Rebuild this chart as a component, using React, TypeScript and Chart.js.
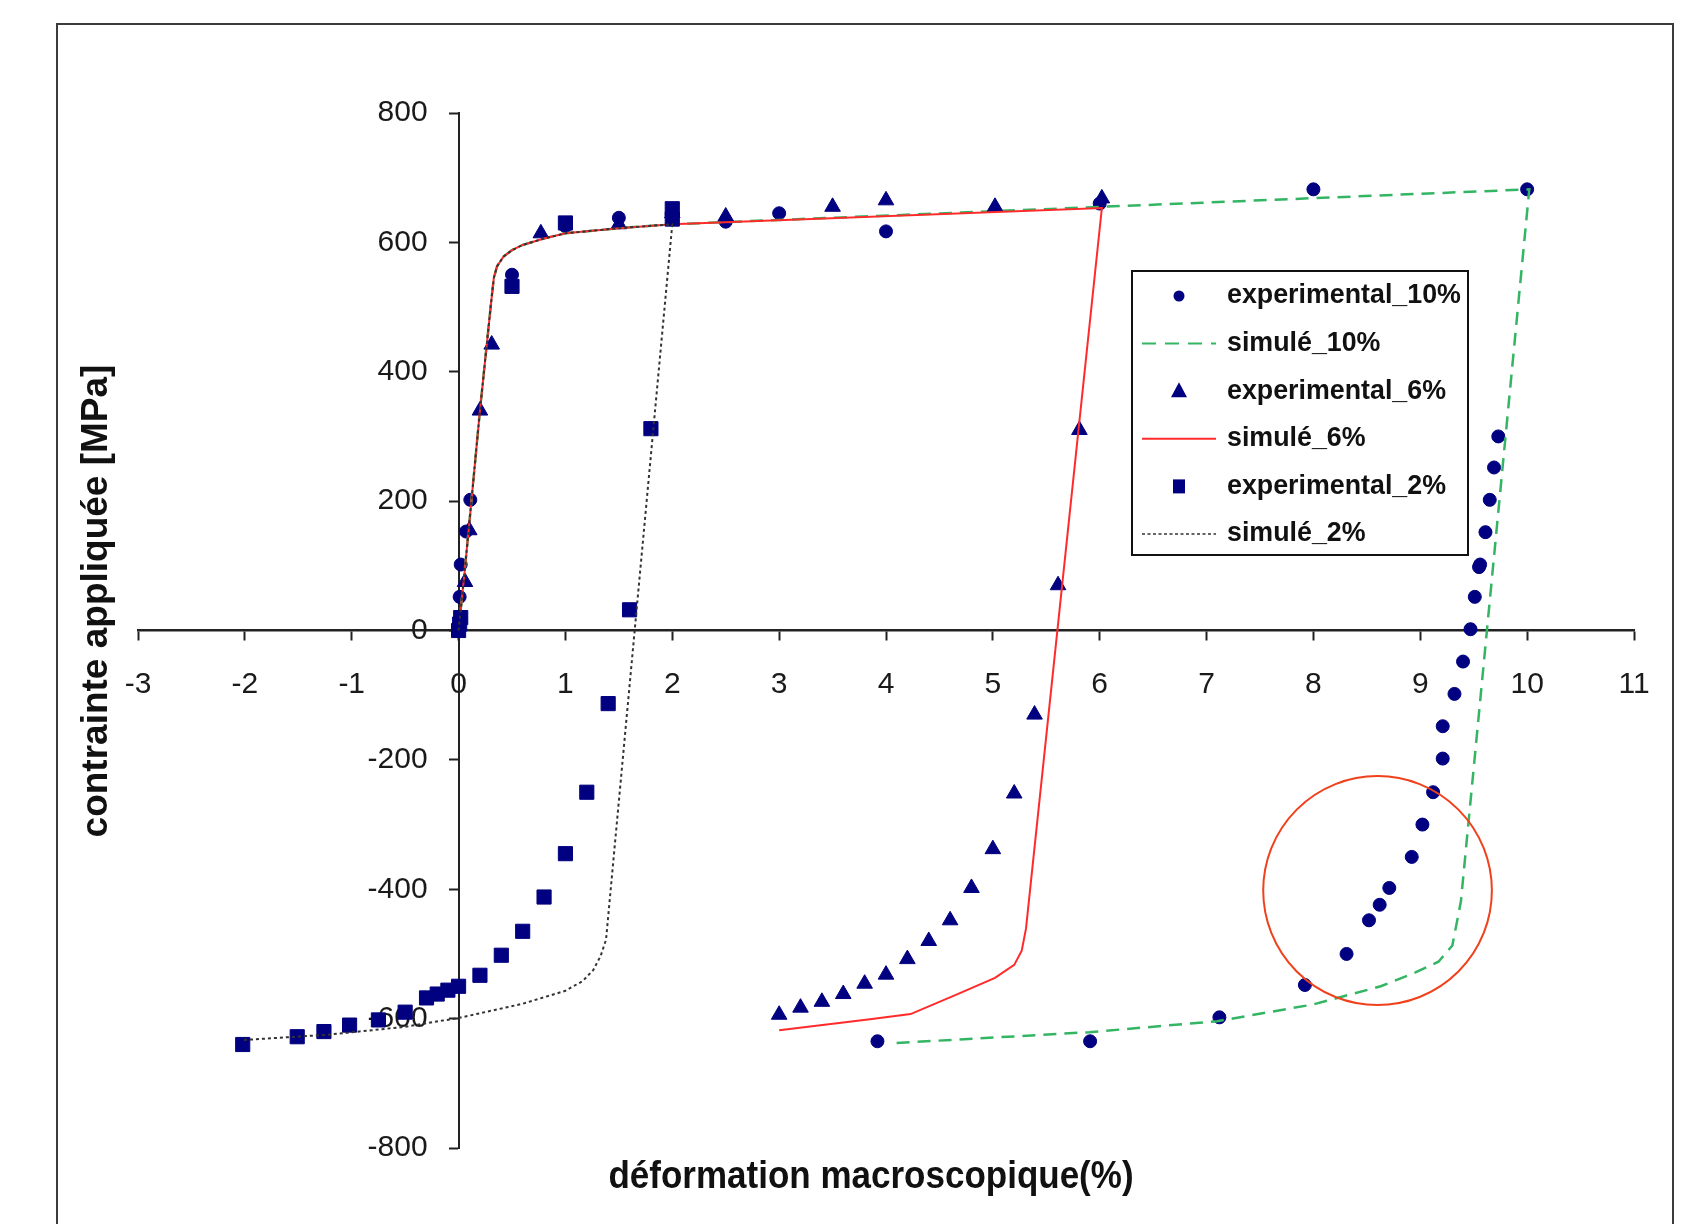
import React, { useEffect, useRef } from 'react';
import { Chart, registerables } from 'chart.js';

Chart.register(...registerables);

// ---- axis ranges / ticks ----
const xRange = [-3, 11];
const yRange = [-800, 800];
const xStep = 1;
const yStep = 200;

// ---- experimental_10% (circles) ----
const exp10X = [0, 0.01, 0.02, 0.07, 0.11, 0.5, 1.0, 1.5, 2.0, 2.5, 3.0, 4.0, 6.0, 8.0, 10.0,
  9.73, 9.69, 9.65, 9.61, 9.56, 9.55, 9.51, 9.47, 9.40, 9.32, 9.21, 9.21, 9.12, 9.02, 8.92, 8.71, 8.62, 8.52, 8.31, 7.92, 7.12, 5.91, 3.92];
const exp10Y = [0, 52, 102, 153, 202, 550, 625, 638, 645, 632, 645, 617, 660, 682, 682,
  300, 252, 202, 152, 102, 98, 52, 2, -48, -98, -148, -198, -250, -300, -350, -398, -424, -448, -500, -548, -598, -635, -635];

// ---- experimental_6% (triangles) ----
const exp6X = [0.06, 0.1, 0.2, 0.31, 0.77, 1.5, 2.0, 2.5, 3.5, 4.0, 5.02, 6.02,
  5.81, 5.61, 5.39, 5.2, 5.0, 4.8, 4.6, 4.4, 4.2, 4.0, 3.8, 3.6, 3.4, 3.2, 3.0];
const exp6Y = [75, 155, 340, 442, 614, 628, 645, 640, 655, 665, 655, 668,
  310, 70, -130, -252, -338, -398, -448, -480, -508, -532, -546, -562, -574, -583, -594];

// ---- experimental_2% (squares) ----
const exp2X = [0, 0.01, 0.02, 0.5, 1.0, 2.0, 2.0,
  1.8, 1.6, 1.4, 1.2, 1.0, 0.8, 0.6, 0.4, 0.2, 0.0, -0.1, -0.2, -0.3, -0.5, -0.75, -1.02, -1.26, -1.51, -2.02];
const exp2Y = [0, 10, 20, 532, 630, 636, 652,
  312, 32, -113, -250, -345, -412, -465, -502, -533, -550, -556, -562, -568, -590, -602, -610, -620, -628, -640];

// ---- simulated: common loading branch ----
const loadX = [0, 0.05, 0.1, 0.2, 0.3, 0.33, 0.36, 0.42, 0.5, 0.6, 0.8, 1.0, 1.5, 2.0];
const loadY = [0, 80, 165, 340, 500, 545, 563, 578, 588, 596, 606, 614, 622, 628];

// ---- simulé_10% ----
const sim10X = [...loadX, 6.02, 10.02, 9.38, 9.3, 9.17, 8.95, 8.63, 8.0, 7.1, 5.9, 4.06];
const sim10Y = [...loadY, 655, 682, -419, -487, -512, -529, -550, -578, -604, -621, -638];

// ---- simulé_6% ----
const sim6X = [...loadX, 6.02, 5.31, 5.27, 5.2, 5.02, 4.67, 4.23, 3.85, 3.0];
const sim6Y = [...loadY, 653, -461, -495, -517, -537, -562, -593, -601, -618];

// ---- simulé_2% ----
const sim2X = [...loadX, 1.38, 1.33, 1.26, 1.16, 1.0, 0.6, 0.0, -0.52, -1.23, -2.01];
const sim2Y = [...loadY, -478, -503, -525, -542, -557, -577, -599, -613, -625, -633];

// ---- red ring annotation (data units) ----
const ringCenter = [8.6, -402];
const ringHalf = [1.07, 177];

// ---- texts ----
const xTitle = 'déformation macroscopique(%)';
const yTitle = 'contrainte appliquée [MPa]';
const legendLabels = ['experimental_10%', 'simulé_10%', 'experimental_6%', 'simulé_6%', 'experimental_2%', 'simulé_2%'];

const NAVY = '#000080';
const GREEN = '#33b563';
const RED = '#ff2b2b';
const BLACK = '#333333';

const pts = (xs: number[], ys: number[]) => xs.map((x, i) => ({ x, y: ys[i] }));

const FONT = '"Liberation Sans", Arial, Helvetica, sans-serif';

const shifted = new WeakSet<object>();

const decorPlugin = {
  id: 'decor',
  beforeDraw(chart: any) {
    const ctx = chart.ctx as CanvasRenderingContext2D;
    // move the y tick labels left of the crossing axis (Excel style gap)
    const ys = chart.scales.y;
    const items = ys.getLabelItems(chart.chartArea) || [];
    items.forEach((it: any) => {
      if (!shifted.has(it) && it.options && it.options.translation) {
        it.options.translation[0] -= 31;
        shifted.add(it);
      }
    });
    ctx.save();
    ctx.fillStyle = '#ffffff';
    ctx.fillRect(0, 0, chart.width, chart.height);
    ctx.strokeStyle = '#3c3c3c';
    ctx.lineWidth = 2;
    ctx.strokeRect(57, 24, 1616, chart.height + 20);
    ctx.restore();
  },
  afterDraw(chart: any) {
    const ctx = chart.ctx as CanvasRenderingContext2D;
    const xs = chart.scales.x;
    const ys = chart.scales.y;
    ctx.save();

    // axis titles
    ctx.fillStyle = '#111';
    ctx.textAlign = 'center';
    ctx.textBaseline = 'middle';
    ctx.save();
    ctx.font = `bold 35px ${FONT}`;
    ctx.translate(871, 1177);
    ctx.scale(1, 1.12);
    ctx.fillText(xTitle, 0, 0);
    ctx.restore();
    ctx.save();
    ctx.font = `bold 37px ${FONT}`;
    ctx.translate(97, 601);
    ctx.rotate(-Math.PI / 2);
    ctx.fillText(yTitle, 0, 0);
    ctx.restore();

    // red ring
    const cx = xs.getPixelForValue(ringCenter[0]);
    const cy = ys.getPixelForValue(ringCenter[1]);
    const rx = Math.abs(xs.getPixelForValue(ringCenter[0] + ringHalf[0]) - cx);
    const ry = Math.abs(ys.getPixelForValue(ringCenter[1] + ringHalf[1]) - cy);
    ctx.beginPath();
    ctx.ellipse(cx, cy, rx, ry, 0, 0, Math.PI * 2);
    ctx.strokeStyle = '#f0401c';
    ctx.lineWidth = 2;
    ctx.stroke();

    // legend
    const lx = 1132, ly = 271, lw = 336, lh = 284;
    ctx.fillStyle = '#fff';
    ctx.fillRect(lx, ly, lw, lh);
    ctx.strokeStyle = '#111';
    ctx.lineWidth = 2;
    ctx.strokeRect(lx, ly, lw, lh);
    const rowY0 = 296, rowH = 47.6;
    const symX = 1179;
    ctx.font = `bold 26.8px ${FONT}`;
    ctx.textAlign = 'left';
    ctx.textBaseline = 'middle';
    legendLabels.forEach((label, i) => {
      const y = rowY0 + i * rowH;
      ctx.fillStyle = NAVY;
      ctx.strokeStyle = NAVY;
      ctx.setLineDash([]);
      if (i === 0) {
        ctx.beginPath();
        ctx.arc(symX, y, 5.5, 0, Math.PI * 2);
        ctx.fill();
      } else if (i === 2) {
        ctx.beginPath();
        ctx.moveTo(symX, y - 9);
        ctx.lineTo(symX + 8, y + 6);
        ctx.lineTo(symX - 8, y + 6);
        ctx.closePath();
        ctx.fill();
      } else if (i === 4) {
        ctx.fillRect(symX - 6, y - 7, 12, 14);
      } else {
        ctx.beginPath();
        ctx.moveTo(1142, y);
        ctx.lineTo(1216, y);
        if (i === 1) { ctx.strokeStyle = GREEN; ctx.lineWidth = 2; ctx.setLineDash([14, 9]); }
        if (i === 3) { ctx.strokeStyle = RED; ctx.lineWidth = 2; }
        if (i === 5) { ctx.strokeStyle = BLACK; ctx.lineWidth = 1.6; ctx.setLineDash([3, 2.5]); }
        ctx.stroke();
        ctx.setLineDash([]);
      }
      ctx.fillStyle = '#111';
      ctx.fillText(label, 1227, y);
    });
    ctx.restore();
  },
};

export default function App() {
  const ref = useRef<HTMLCanvasElement | null>(null);

  useEffect(() => {
    if (!ref.current) return;
    const chart = new Chart(ref.current, {
      type: 'scatter',
      data: {
        datasets: [
          { label: legendLabels[0], data: pts(exp10X, exp10Y), pointStyle: 'circle', pointRadius: 6.5,
            backgroundColor: NAVY, borderColor: NAVY, pointBorderWidth: 1, showLine: false, order: 6 },
          { label: legendLabels[1], data: pts(sim10X, sim10Y), showLine: true, pointRadius: 0,
            borderColor: GREEN, borderWidth: 2.5, borderDash: [13, 8], tension: 0, order: 5 },
          { label: legendLabels[2], data: pts(exp6X, exp6Y), pointStyle: 'triangle', pointRadius: 9,
            backgroundColor: NAVY, borderColor: NAVY, pointBorderWidth: 1, showLine: false, order: 4 },
          { label: legendLabels[3], data: pts(sim6X, sim6Y), showLine: true, pointRadius: 0,
            borderColor: RED, borderWidth: 2, tension: 0, order: 3 },
          { label: legendLabels[4], data: pts(exp2X, exp2Y), pointStyle: 'rect', pointRadius: 10,
            backgroundColor: NAVY, borderColor: NAVY, pointBorderWidth: 1, showLine: false, order: 2 },
          { label: legendLabels[5], data: pts(sim2X, sim2Y), showLine: true, pointRadius: 0,
            borderColor: BLACK, borderWidth: 2, borderDash: [3, 3], tension: 0, order: 1 },
        ],
      },
      options: {
        animation: false,
        responsive: false,
        devicePixelRatio: 1,
        layout: { padding: { left: 138, right: 72, top: 113, bottom: 76 } },
        plugins: { legend: { display: false }, tooltip: { enabled: false } },
        scales: {
          x: {
            type: 'linear', min: xRange[0], max: xRange[1],
            position: { y: 0 } as any,
            ticks: { stepSize: xStep, color: '#1a1a1a', font: { family: FONT, size: 30 }, padding: 27, maxRotation: 0 },
            grid: { drawOnChartArea: false, drawTicks: true, tickLength: 9, tickColor: '#222', tickWidth: 2 },
            border: { display: true, color: '#222', width: 2.5 },
            afterFit: (s: any) => { s.height = 0; },
          },
          y: {
            type: 'linear', min: yRange[0], max: yRange[1],
            position: { x: 0 } as any,
            ticks: { stepSize: yStep, color: '#1a1a1a', font: { family: FONT, size: 30 }, padding: 22 },
            grid: { drawOnChartArea: false, drawTicks: true, tickLength: 9, tickColor: '#222', tickWidth: 2 },
            border: { display: true, color: '#222', width: 2 },
            afterFit: (s: any) => { s.width = 0; },
          },
        },
      },
      plugins: [decorPlugin],
    });
    return () => chart.destroy();
  }, []);

  return (
    <div style={{ position: 'fixed', left: 0, top: 0, width: 1706, height: 1224, overflow: 'hidden', background: '#fff' }}>
      <canvas ref={ref} width={1706} height={1224} style={{ width: 1706, height: 1224, display: 'block' }} />
    </div>
  );
}
